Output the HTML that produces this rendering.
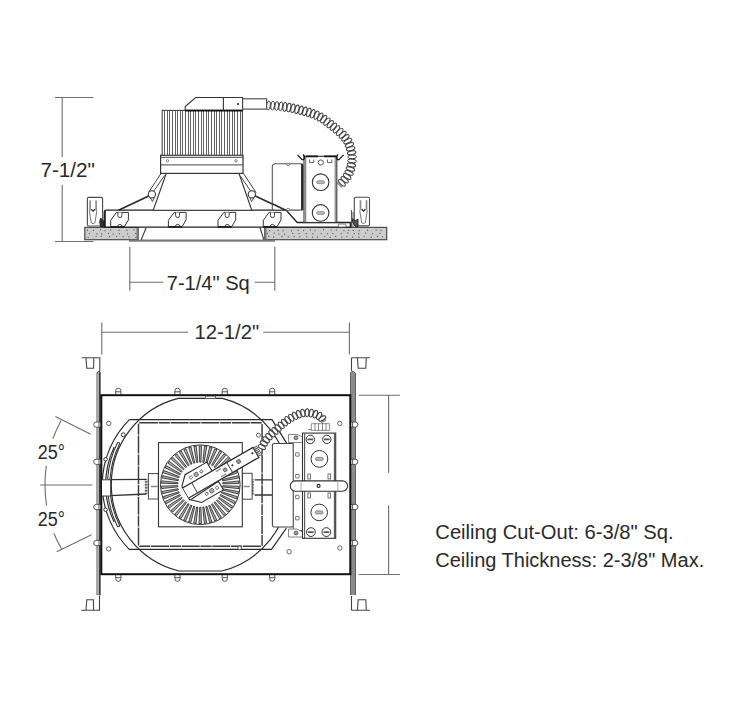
<!DOCTYPE html>
<html><head><meta charset="utf-8">
<style>
html,body{margin:0;padding:0;background:#fff;}
body{width:745px;height:724px;overflow:hidden;}
svg{display:block;}
text{font-family:"Liberation Sans",sans-serif;fill:#2a2a2a;}
</style></head>
<body>
<svg width="745" height="724" viewBox="0 0 745 724">
<g stroke="#6e6e6e" stroke-width="1.1" fill="none">
<path d="M55 97.5H93.5M62.2 97.5V157M62.2 185V241.5M55 241.5H93.5"/>
<path d="M129.8 246.8V290.7M274.8 246.8V290.7M129.8 282.2H163.4M254.7 282.2H274.8"/>
<path d="M101.8 322.4V354.6M349.4 322.4V354.6M101.8 332.2H188M263.2 332.2H349.4"/>
<path d="M358.8 395.2H399.9M358.8 574.5H399.9M388.6 395.2V472.7M388.6 505.2V574.5"/>
<path d="M40.1 485H92.5M55.4 416.6L90.7 434.2M56.7 551.8L91.5 534.7"/>
<path d="M61.1 420.5A135.3 135.3 0 0 0 52.9 438.8M46.3 465.9A135.3 135.3 0 0 0 46.6 505.7M53.8 533.3A135.3 135.3 0 0 0 61.8 549.2"/>
</g>
<text x="40.4" y="176.8" font-size="19.6" textLength="54.5" lengthAdjust="spacingAndGlyphs">7-1/2"</text>
<text x="166.8" y="289.8" font-size="19.6" textLength="82.9" lengthAdjust="spacingAndGlyphs">7-1/4" Sq</text>
<text x="194.5" y="339.4" font-size="19.6" textLength="64.7" lengthAdjust="spacingAndGlyphs">12-1/2"</text>
<text x="37.7" y="459.2" font-size="19.6" textLength="27.2" lengthAdjust="spacingAndGlyphs">25°</text>
<text x="37.7" y="526.3" font-size="19.6" textLength="27.2" lengthAdjust="spacingAndGlyphs">25°</text>
<text x="435.3" y="539.3" font-size="19.6" textLength="238.4" lengthAdjust="spacingAndGlyphs">Ceiling Cut-Out: 6-3/8" Sq.</text>
<text x="435.3" y="566.5" font-size="19.6" textLength="268.9" lengthAdjust="spacingAndGlyphs">Ceiling Thickness: 2-3/8" Max.</text>
<g stroke="#333" stroke-width="1.2" fill="#fff">
<rect x="84.8" y="227.4" width="53.4" height="12.3" fill="#cccccc" stroke="#4a4a4a" stroke-width="1.2"/><g fill="#555" stroke="none"><circle cx="87.51" cy="230.25" r="0.65"/><circle cx="93.49" cy="230.32" r="0.65"/><circle cx="100.5" cy="229.68" r="0.65"/><circle cx="105.05" cy="230.6" r="0.65"/><circle cx="110.59" cy="229.88" r="0.65"/><circle cx="119.07" cy="230.16" r="0.65"/><circle cx="126.92" cy="230.17" r="0.65"/><circle cx="133.97" cy="229.78" r="0.65"/><circle cx="89.4" cy="233.63" r="0.65"/><circle cx="96.87" cy="233.81" r="0.65"/><circle cx="101.63" cy="233.91" r="0.65"/><circle cx="108.49" cy="233.36" r="0.65"/><circle cx="113.11" cy="234.04" r="0.65"/><circle cx="119.5" cy="233.86" r="0.65"/><circle cx="127.52" cy="233.86" r="0.65"/><circle cx="135.7" cy="233.47" r="0.65"/><circle cx="88.13" cy="237.32" r="0.65"/><circle cx="96.15" cy="236.32" r="0.65"/><circle cx="101.19" cy="236.46" r="0.65"/><circle cx="109.56" cy="236.72" r="0.65"/><circle cx="116.56" cy="236.56" r="0.65"/><circle cx="123.09" cy="236.66" r="0.65"/><circle cx="128.99" cy="236.9" r="0.65"/><circle cx="135.83" cy="237.29" r="0.65"/></g>
<rect x="264.7" y="227.4" width="122" height="12.3" fill="#cccccc" stroke="#4a4a4a" stroke-width="1.2"/><g fill="#555" stroke="none"><circle cx="269.49" cy="230.63" r="0.65"/><circle cx="277.95" cy="230.41" r="0.65"/><circle cx="283.1" cy="230.63" r="0.65"/><circle cx="291.46" cy="230.69" r="0.65"/><circle cx="298.24" cy="230.46" r="0.65"/><circle cx="303.58" cy="230.6" r="0.65"/><circle cx="310.38" cy="229.94" r="0.65"/><circle cx="315.13" cy="230.62" r="0.65"/><circle cx="323.59" cy="229.71" r="0.65"/><circle cx="331.29" cy="230.09" r="0.65"/><circle cx="336.4" cy="229.95" r="0.65"/><circle cx="343.97" cy="230.65" r="0.65"/><circle cx="348.65" cy="230.34" r="0.65"/><circle cx="353.33" cy="230.46" r="0.65"/><circle cx="359.15" cy="230.66" r="0.65"/><circle cx="367.57" cy="230.21" r="0.65"/><circle cx="376.07" cy="229.97" r="0.65"/><circle cx="380.88" cy="230.32" r="0.65"/><circle cx="267.29" cy="233.49" r="0.65"/><circle cx="274.23" cy="233.19" r="0.65"/><circle cx="278.9" cy="234.04" r="0.65"/><circle cx="284.66" cy="234.15" r="0.65"/><circle cx="292.75" cy="233.45" r="0.65"/><circle cx="299.09" cy="233.62" r="0.65"/><circle cx="306.16" cy="233.71" r="0.65"/><circle cx="312.9" cy="233.74" r="0.65"/><circle cx="321.16" cy="233.61" r="0.65"/><circle cx="327.39" cy="233.86" r="0.65"/><circle cx="332.84" cy="233.36" r="0.65"/><circle cx="341.25" cy="233.63" r="0.65"/><circle cx="347.94" cy="233.01" r="0.65"/><circle cx="354.1" cy="233.7" r="0.65"/><circle cx="358.68" cy="233.74" r="0.65"/><circle cx="365.71" cy="233.07" r="0.65"/><circle cx="372.72" cy="233.56" r="0.65"/><circle cx="379.94" cy="233.42" r="0.65"/><circle cx="268.91" cy="236.23" r="0.65"/><circle cx="273.66" cy="237.01" r="0.65"/><circle cx="282.01" cy="236.5" r="0.65"/><circle cx="288.33" cy="236.91" r="0.65"/><circle cx="294.11" cy="236.64" r="0.65"/><circle cx="299.87" cy="236.64" r="0.65"/><circle cx="306.75" cy="236.56" r="0.65"/><circle cx="312.76" cy="237.13" r="0.65"/><circle cx="317.36" cy="236.88" r="0.65"/><circle cx="324.81" cy="236.57" r="0.65"/><circle cx="330.2" cy="237.16" r="0.65"/><circle cx="335.65" cy="236.42" r="0.65"/><circle cx="341.89" cy="237.04" r="0.65"/><circle cx="346.8" cy="236.59" r="0.65"/><circle cx="352.63" cy="237.2" r="0.65"/><circle cx="358.89" cy="237.23" r="0.65"/><circle cx="364.06" cy="236.6" r="0.65"/><circle cx="371.17" cy="237.26" r="0.65"/><circle cx="377.47" cy="236.47" r="0.65"/><circle cx="382.45" cy="236.84" r="0.65"/></g>
<path d="M137.5 228V239.5M265.5 228V239.5" stroke="#777" stroke-width="2"/>
<path d="M146.2 227.5L141 240.3H264L260 227.5" fill="#fff" stroke="#444"/>
<path d="M129 240.8H275" stroke="#7a7a7a" stroke-width="2"/>
<path d="M106 210.2H286.3L297.2 222.5H350.3V227.1H104.4V212Q104.4 210.2 106 210.2Z" fill="#fff" stroke="#222" stroke-width="1.3"/>
<path d="M104.8 211V227" stroke="#222" stroke-width="2"/>
<rect x="338.2" y="224" width="7.8" height="3" rx="1" fill="#fff" stroke="#555" stroke-width="0.8"/>
<path d="M110.7 226.8V220.3L116.5 212.4H128.4 V219.9L124.3 226.8Z" fill="#fff" stroke="#333" stroke-width="1"/>
<path d="M117.9 212.6V215.6A2 2 0 0 0 121.9 215.6V212.6" fill="#fff" stroke="#333" stroke-width="0.95"/>
<path d="M117.7 226.6A2.2 2.2 0 0 1 122.1 226.6" fill="#fff" stroke="#333" stroke-width="0.95"/>
<path d="M110.7 226.9H124.3" stroke="#111" stroke-width="1.4"/>
<path d="M168.4 226.8V220.3L174.2 212.4H186.1 V219.9L182 226.8Z" fill="#fff" stroke="#333" stroke-width="1"/>
<path d="M175.6 212.6V215.6A2 2 0 0 0 179.6 215.6V212.6" fill="#fff" stroke="#333" stroke-width="0.95"/>
<path d="M175.4 226.6A2.2 2.2 0 0 1 179.8 226.6" fill="#fff" stroke="#333" stroke-width="0.95"/>
<path d="M168.4 226.9H182" stroke="#111" stroke-width="1.4"/>
<path d="M218 226.8V220.3L223.8 212.4H235.7 V219.9L231.6 226.8Z" fill="#fff" stroke="#333" stroke-width="1"/>
<path d="M225.2 212.6V215.6A2 2 0 0 0 229.2 215.6V212.6" fill="#fff" stroke="#333" stroke-width="0.95"/>
<path d="M225 226.6A2.2 2.2 0 0 1 229.4 226.6" fill="#fff" stroke="#333" stroke-width="0.95"/>
<path d="M218 226.9H231.6" stroke="#111" stroke-width="1.4"/>
<path d="M263.3 226.8V220.3L269.1 212.4H281 V219.9L276.9 226.8Z" fill="#fff" stroke="#333" stroke-width="1"/>
<path d="M270.5 212.6V215.6A2 2 0 0 0 274.5 215.6V212.6" fill="#fff" stroke="#333" stroke-width="0.95"/>
<path d="M270.3 226.6A2.2 2.2 0 0 1 274.7 226.6" fill="#fff" stroke="#333" stroke-width="0.95"/>
<path d="M263.3 226.9H276.9" stroke="#111" stroke-width="1.4"/>
<rect x="87.4" y="197.4" width="15.2" height="28.6" rx="1.3" fill="#fff" stroke="#4a4a4a" stroke-width="1.1"/><path d="M90.1 200.4V210.4M96.1 200.4V210.4" stroke="#8a8a8a" stroke-width="1.7"/><path d="M91.3 209.4L93.1 211.2L94.9 209.4" fill="none" stroke="#222" stroke-width="1.3"/><path d="M89.3 210.4L91.3 222.9Q93.1 224.4 94.9 222.9L96.9 210.4" fill="none" stroke="#666" stroke-width="0.9"/>
<rect x="354.3" y="197.3" width="15.2" height="28.6" rx="1.3" fill="#fff" stroke="#4a4a4a" stroke-width="1.1"/><path d="M360.5 200.3V210.3M366.5 200.3V210.3" stroke="#8a8a8a" stroke-width="1.7"/><path d="M361.7 209.3L363.5 211.1L365.3 209.3" fill="none" stroke="#222" stroke-width="1.3"/><path d="M359.7 210.3L361.7 222.8Q363.5 224.3 365.3 222.8L367.3 210.3" fill="none" stroke="#666" stroke-width="0.9"/>
<path d="M100.5 218L103.5 221V226.5H100.5Q99 222 100.5 218Z" fill="#333" stroke="#222" stroke-width="1"/>
<path d="M355.5 226.5L352.5 222V218.5L355 221L358 219V226.5Z" fill="#555" stroke="#222" stroke-width="0.9"/>
<path d="M351.5 210V227M353 212V227" stroke="#444" stroke-width="0.9"/>
<path d="M166.3 173.4H238.9L251.8 210.2H153.2Z" fill="#fff" stroke="#333" stroke-width="1.1"/>
<path d="M161 173.5L148.5 192.5M164.5 175.5L152.5 193M243.5 173.5L256 192.5M240 175.5L252 193" stroke="#444" stroke-width="1"/>
<path d="M150 197.5L152.5 201.5L154.5 197M249.5 197L251.5 201.5L254 197.5" fill="none" stroke="#444" stroke-width="1"/>
<path d="M151.9 194.4L118.5 210.2M251.8 194.4L285.7 210.2" stroke="#2a2a2a" stroke-width="1.7"/>
<circle cx="151.9" cy="194.4" r="3.6" fill="#fff" stroke="#333" stroke-width="1.1"/><circle cx="251.8" cy="194.4" r="3.6" fill="#fff" stroke="#333" stroke-width="1.1"/>
<rect x="160.6" y="155.2" width="82.4" height="18.2" fill="#fff" stroke="#333" stroke-width="1.2"/>
<path d="M160.6 157.3H243M160.6 164.9H243" stroke="#444" stroke-width="1"/>
<circle cx="167.5" cy="160.8" r="1.2" fill="none" stroke="#666" stroke-width="0.8"/><circle cx="236" cy="160.8" r="1.2" fill="none" stroke="#666" stroke-width="0.8"/>
<rect x="162.2" y="110.4" width="80.2" height="44.8" fill="#fff" stroke="#444" stroke-width="1.1"/>
<path d="M164.5 111V155M167.5 111V155M169.5 111V155M172.5 111V155M175.5 111V155M177.5 111V155M180.5 111V155M182.5 111V155M185.5 111V155M188.5 111V155M190.5 111V155M193.5 111V155M195.5 111V155M198.5 111V155M201.5 111V155M203.5 111V155M206.5 111V155M208.5 111V155M211.5 111V155M214.5 111V155M216.5 111V155M219.5 111V155M221.5 111V155M224.5 111V155M227.5 111V155M229.5 111V155M232.5 111V155M234.5 111V155M237.5 111V155M240.5 111V155" stroke="#5a5a5a" stroke-width="0.95"/>
<path d="M185.2 110.4V106.5L195.7 97.5H242.6V110.4Z" fill="#fff" stroke="#333" stroke-width="1.1"/>
<path d="M185.2 110.6H242.6" stroke="#111" stroke-width="1.6"/>
<path d="M223.4 97.5V110.4" stroke="#333" stroke-width="1.1"/>
<rect x="242.6" y="98.8" width="24" height="10.3" fill="#fff" stroke="#444" stroke-width="1.1"/>
<circle cx="238" cy="104" r="1" fill="#222" stroke="none"/>
</g>
<path d="M266.5 105.2L267.32 105.28L268.3 105.36L269.42 105.45L270.66 105.54L272.02 105.64L273.48 105.74L275.02 105.86L276.62 105.99L278.28 106.14L279.97 106.3L281.68 106.48L283.4 106.68L285.1 106.9L286.78 107.14L288.42 107.41L290 107.7L291.58 108.02L293.21 108.37L294.89 108.75L296.61 109.15L298.34 109.57L300.09 110.01L301.85 110.47L303.59 110.94L305.32 111.43L307.02 111.93L308.68 112.43L310.29 112.94L311.83 113.46L313.31 113.97L314.7 114.49L316 115L317.2 115.51L318.31 116.01L319.34 116.51L320.31 117.01L321.21 117.52L322.06 118.03L322.87 118.55L323.65 119.08L324.41 119.62L325.16 120.18L325.91 120.76L326.67 121.36L327.45 121.98L328.26 122.62L329.1 123.3L330 124L330.95 124.74L331.94 125.52L332.97 126.34L334.03 127.2L335.1 128.07L336.18 128.97L337.26 129.89L338.34 130.81L339.39 131.74L340.43 132.68L341.42 133.6L342.38 134.52L343.28 135.43L344.13 136.31L344.9 137.17L345.6 138L346.23 138.81L346.79 139.6L347.31 140.39L347.77 141.16L348.19 141.93L348.57 142.69L348.91 143.44L349.21 144.19L349.49 144.93L349.75 145.66L349.98 146.39L350.2 147.12L350.41 147.84L350.61 148.56L350.8 149.28L351 150L351.19 150.71L351.36 151.42L351.52 152.11L351.65 152.8L351.77 153.48L351.87 154.15L351.96 154.83L352.02 155.5L352.08 156.17L352.11 156.85L352.13 157.52L352.13 158.2L352.12 158.89L352.1 159.58L352.06 160.29L352 161L351.93 161.73L351.83 162.48L351.71 163.25L351.58 164.04L351.43 164.83L351.26 165.62L351.07 166.42L350.88 167.22L350.67 168.01L350.45 168.79L350.22 169.55L349.98 170.29L349.74 171.01L349.5 171.71L349.25 172.37L349 173L348.74 173.6L348.47 174.17L348.19 174.72L347.89 175.25L347.59 175.76L347.27 176.25L346.95 176.73L346.62 177.19L346.3 177.63L345.96 178.07L345.63 178.49L345.3 178.91L344.97 179.31L344.64 179.71L344.32 180.11L344 180.5L343.68 180.89L343.34 181.28L342.99 181.66L342.63 182.04L342.27 182.41L341.91 182.78L341.54 183.13L341.19 183.47L340.84 183.79L340.51 184.1L340.19 184.39L339.9 184.66L339.63 184.91L339.39 185.13L339.18 185.33L339 185.5" fill="none" stroke="#9a9a9a" stroke-width="6.6"/><g fill="#fff" stroke="#3a3a3a" stroke-width="0.95"><ellipse cx="268.54" cy="105.38" rx="1.8" ry="4.4" transform="rotate(4.36 268.54 105.38)"/><ellipse cx="272.63" cy="105.68" rx="1.8" ry="4.4" transform="rotate(4.24 272.63 105.68)"/><ellipse cx="276.72" cy="106" rx="1.8" ry="4.4" transform="rotate(5.03 276.72 106)"/><ellipse cx="280.8" cy="106.39" rx="1.8" ry="4.4" transform="rotate(5.98 280.8 106.39)"/><ellipse cx="284.87" cy="106.87" rx="1.8" ry="4.4" transform="rotate(7.34 284.87 106.87)"/><ellipse cx="288.92" cy="107.5" rx="1.8" ry="4.4" transform="rotate(10.49 288.92 107.5)"/><ellipse cx="292.94" cy="108.31" rx="1.8" ry="4.4" transform="rotate(12.09 292.94 108.31)"/><ellipse cx="296.94" cy="109.23" rx="1.8" ry="4.4" transform="rotate(13.65 296.94 109.23)"/><ellipse cx="300.91" cy="110.23" rx="1.8" ry="4.4" transform="rotate(14.66 300.91 110.23)"/><ellipse cx="304.87" cy="111.3" rx="1.8" ry="4.4" transform="rotate(15.73 304.87 111.3)"/><ellipse cx="308.8" cy="112.47" rx="1.8" ry="4.4" transform="rotate(17.63 308.8 112.47)"/><ellipse cx="312.69" cy="113.76" rx="1.8" ry="4.4" transform="rotate(19.27 312.69 113.76)"/><ellipse cx="316.52" cy="115.22" rx="1.8" ry="4.4" transform="rotate(22.86 316.52 115.22)"/><ellipse cx="320.23" cy="116.97" rx="1.8" ry="4.4" transform="rotate(27.59 320.23 116.97)"/><ellipse cx="323.71" cy="119.13" rx="1.8" ry="4.4" transform="rotate(35.57 323.71 119.13)"/><ellipse cx="326.98" cy="121.6" rx="1.8" ry="4.4" transform="rotate(38.54 326.98 121.6)"/><ellipse cx="330.19" cy="124.15" rx="1.8" ry="4.4" transform="rotate(37.97 330.19 124.15)"/><ellipse cx="333.41" cy="126.69" rx="1.8" ry="4.4" transform="rotate(38.9 333.41 126.69)"/><ellipse cx="336.57" cy="129.3" rx="1.8" ry="4.4" transform="rotate(40.21 336.57 129.3)"/><ellipse cx="339.67" cy="131.99" rx="1.8" ry="4.4" transform="rotate(42.1 339.67 131.99)"/><ellipse cx="342.65" cy="134.8" rx="1.8" ry="4.4" transform="rotate(45.01 342.65 134.8)"/><ellipse cx="345.44" cy="137.81" rx="1.8" ry="4.4" transform="rotate(49.92 345.44 137.81)"/><ellipse cx="347.77" cy="141.17" rx="1.8" ry="4.4" transform="rotate(61.41 347.77 141.17)"/><ellipse cx="349.48" cy="144.89" rx="1.8" ry="4.4" transform="rotate(69.35 349.48 144.89)"/><ellipse cx="350.67" cy="148.81" rx="1.8" ry="4.4" transform="rotate(74.71 350.67 148.81)"/><ellipse cx="351.65" cy="152.79" rx="1.8" ry="4.4" transform="rotate(78.78 351.65 152.79)"/><ellipse cx="352.11" cy="156.86" rx="1.8" ry="4.4" transform="rotate(88.37 352.11 156.86)"/><ellipse cx="352" cy="160.96" rx="1.8" ry="4.4" transform="rotate(94.44 352 160.96)"/><ellipse cx="351.39" cy="165.01" rx="1.8" ry="4.4" transform="rotate(101.98 351.39 165.01)"/><ellipse cx="350.39" cy="168.99" rx="1.8" ry="4.4" transform="rotate(106.62 350.39 168.99)"/><ellipse cx="349.06" cy="172.86" rx="1.8" ry="4.4" transform="rotate(111.68 349.06 172.86)"/><ellipse cx="347.13" cy="176.47" rx="1.8" ry="4.4" transform="rotate(123.99 347.13 176.47)"/><ellipse cx="344.63" cy="179.72" rx="1.8" ry="4.4" transform="rotate(129.21 344.63 179.72)"/><ellipse cx="341.9" cy="182.78" rx="1.8" ry="4.4" transform="rotate(135.81 341.9 182.78)"/></g>
<g stroke="#333" stroke-width="1.1" fill="#fff">
<path d="M275.5 163.7H302V210.1H274Q272.3 210.1 272.3 208.4V166.9Q272.3 163.7 275.5 163.7Z" fill="#fff" stroke="#555"/>
<path d="M303.6 165V210" stroke="#888" stroke-width="0.9"/>
<path d="M272.3 203.8L285.7 210.2" stroke="#2a2a2a" stroke-width="1.6"/>
<path d="M302 164V210" stroke="#222" stroke-width="1.8"/>
<path d="M286.5 163.9A1.6 1.6 0 0 0 289.7 163.9M286.5 209.9A1.6 1.6 0 0 1 289.7 209.9" fill="#fff" stroke="#666" stroke-width="0.9"/>
<rect x="304" y="156.3" width="32.8" height="66.2" fill="#fff" stroke="#333" stroke-width="1.1"/>
<path d="M305.7 157V222M335.2 157V222" stroke="#777" stroke-width="1.1"/>
<path d="M306 156.3H318M324 156.3H336" stroke="#111" stroke-width="1.8"/>
<path d="M297.5 154.8L301.8 159.3Q303.6 160.6 304.3 158.5Q304.8 155.5 303 154.5" fill="none" stroke="#111" stroke-width="1.2"/>
<path d="M343.6 154.8L339.3 159.3Q337.5 160.6 336.8 158.5Q336.3 155.5 338.1 154.5" fill="none" stroke="#111" stroke-width="1.2"/>
<path d="M309.5 159.5V162.5H313.8V159.5M327.5 159.5V162.5H331.8V159.5" fill="none" stroke="#555" stroke-width="0.9"/>
<circle cx="320.8" cy="162.5" r="2.6" fill="#fff" stroke="#444" stroke-width="0.9"/>
<circle cx="320.6" cy="182.2" r="8.3" fill="#fff" stroke="#333" stroke-width="1.1"/><circle cx="320.6" cy="212.9" r="8.3" fill="#fff" stroke="#333" stroke-width="1.1"/>
<rect x="316.7" y="180.7" width="7.8" height="3" rx="1.5" fill="#bbb" stroke="#777" stroke-width="0.7"/>
<rect x="316.7" y="211.4" width="7.8" height="3" rx="1.5" fill="#bbb" stroke="#777" stroke-width="0.7"/>
</g>
<g fill="none" stroke="#444" stroke-width="1.1">
<path d="M81.6 357.7H99.8V371.5M86 357.7L86.8 368.2H93.6L93.8 357.7"/>
<path d="M81.3 610.3H99.5V595.4M86 610.3L86.8 599.7H93.4L93.6 610.3"/>
<path d="M351.5 357.7H370M357.4 357.7L358.2 368.2H365.8L366.3 357.7M351.5 357.7V371"/>
<path d="M351.5 610.3H370M357.4 610.3L358.2 599.7H365.8L366.3 610.3M351.5 610.3V596"/>
</g>
<path d="M97 595V373Q97.5 371 99.8 371.5V595" fill="#a8a8a8" stroke="#444" stroke-width="0.9"/>
<path d="M350.6 595V373Q351.2 371 353.5 371.5L355.4 373V595" fill="#959595" stroke="#444" stroke-width="0.9"/>
<path d="M97.8 374V594" stroke="#ccc" stroke-width="0.7"/><path d="M99.8 372.5V595" stroke="#333" stroke-width="1.4"/><path d="M352.9 374V594" stroke="#777" stroke-width="0.6"/>
<g fill="#fff" stroke="#444" stroke-width="0.9"><path d="M101 422H96.3A2.6 2.6 0 0 0 96.3 427.2H101M99 422V427.2"/><path d="M350.6 422H355.3A2.6 2.6 0 0 1 355.3 427.2H350.6M352.6 422V427.2"/><path d="M101 459.2H96.3A2.6 2.6 0 0 0 96.3 464.4H101M99 459.2V464.4"/><path d="M350.6 459.2H355.3A2.6 2.6 0 0 1 355.3 464.4H350.6M352.6 459.2V464.4"/><path d="M101 504.4H96.3A2.6 2.6 0 0 0 96.3 509.6H101M99 504.4V509.6"/><path d="M350.6 504.4H355.3A2.6 2.6 0 0 1 355.3 509.6H350.6M352.6 504.4V509.6"/><path d="M101 540.4H96.3A2.6 2.6 0 0 0 96.3 545.6H101M99 540.4V545.6"/><path d="M350.6 540.4H355.3A2.6 2.6 0 0 1 355.3 545.6H350.6M352.6 540.4V545.6"/></g>
<g fill="#fff" stroke="#444" stroke-width="0.9"><path d="M115.7 395V390.8A2.6 2.6 0 0 1 120.9 390.8V395M115.7 391.8H120.9"/><path d="M115.7 574.5V578.7A2.6 2.6 0 0 0 120.9 578.7V574.5M115.7 577.7H120.9"/><path d="M174.9 395V390.8A2.6 2.6 0 0 1 180.1 390.8V395M174.9 391.8H180.1"/><path d="M174.9 574.5V578.7A2.6 2.6 0 0 0 180.1 578.7V574.5M174.9 577.7H180.1"/><path d="M222.2 395V390.8A2.6 2.6 0 0 1 227.4 390.8V395M222.2 391.8H227.4"/><path d="M222.2 574.5V578.7A2.6 2.6 0 0 0 227.4 578.7V574.5M222.2 577.7H227.4"/><path d="M269.6 395V390.8A2.6 2.6 0 0 1 274.8 390.8V395M269.6 391.8H274.8"/><path d="M269.6 574.5V578.7A2.6 2.6 0 0 0 274.8 578.7V574.5M269.6 577.7H274.8"/></g>
<rect x="101.3" y="395.2" width="249" height="179" fill="#fff" stroke="#111" stroke-width="2"/>
<g fill="none" stroke="#555" stroke-width="0.9"><circle cx="108.8" cy="423.4" r="2.2"/><circle cx="108.7" cy="548.9" r="2.2"/><circle cx="339.8" cy="423.4" r="2.2"/><circle cx="339.9" cy="548" r="2.2"/><circle cx="289.1" cy="551.8" r="2.2"/><circle cx="258.4" cy="435.2" r="2"/></g>
<g fill="none" stroke="#2a2a2a" stroke-width="1.15">
<path d="M178.15 398.4H222.45 A89 89 0 0 1 221.66 571 H178.94 A89 89 0 0 1 178.15 398.4Z"/>
<rect x="205.3" y="396.2" width="10.3" height="2.2" fill="#fff" stroke="#555" stroke-width="0.8"/>
<path d="M129.4 419.7A98 94 0 0 0 129.2 549.3"/>
<path d="M114.2 447A94.7 90.5 0 0 0 114.1 522"/>
</g>
<path d="M118.32 443.73A91.6 91.6 0 0 0 108.92 478.21M108.92 490.99A91.6 91.6 0 0 0 118.32 525.47" fill="none" stroke="#2a2a2a" stroke-width="3.4" stroke-linecap="round"/>
<path d="M118.32 443.73A91.6 91.6 0 0 0 108.92 478.21M108.92 490.99A91.6 91.6 0 0 0 118.32 525.47" fill="none" stroke="#fff" stroke-width="1.4" stroke-linecap="round"/>
<g fill="#fff" stroke="#333" stroke-width="1"><circle cx="123.3" cy="434.8" r="2"/><circle cx="105.6" cy="509.7" r="1.8"/><circle cx="105.6" cy="459.3" r="1.8"/></g>
<path d="M129.4 419.7H272L286.9 443.6M129 549.3H271.5L286.4 528.1" fill="none" stroke="#2a2a2a" stroke-width="1.2"/>
<rect x="138.5" y="422.8" width="123.6" height="123.5" rx="1.6" fill="none" stroke="#3a3a3a" stroke-width="1.45" stroke-dasharray="18 0.8 11 0.8"/>
<circle cx="239.6" cy="547.9" r="1.9" fill="#fff" stroke="#444" stroke-width="0.9"/>
<path d="M110.3 479.7L146.5 479.3M110.3 495.7L146.5 494M254.6 479.9H272M254.6 495H272" fill="none" stroke="#333" stroke-width="1.3"/>
<path d="M102 479.8H110.6V496H102" fill="#fff" stroke="#444" stroke-width="1"/>
<path d="M146.2 479.5V494.5M252.4 479.5V495" stroke="#333" stroke-width="2.8" stroke-dasharray="0.8 0.7"/>
<rect x="148.4" y="473.6" width="9.9" height="25.4" fill="#fff" stroke="#444" stroke-width="1"/>
<rect x="242.3" y="473.3" width="9.8" height="25.9" fill="#fff" stroke="#444" stroke-width="1"/>
<path d="M151 486.5H157.5M243.5 486.5H249.8" stroke="#888" stroke-width="1.6"/>
<rect x="158.5" y="442.6" width="83.8" height="84.2" fill="#fff" stroke="#333" stroke-width="1.1"/>
<circle cx="200.3" cy="484.75" r="39.8" fill="#fff" stroke="#333" stroke-width="1"/>
<path d="M222.7 486.92L238.92 488.65L239.09 486.26L222.79 485.72ZM222.2 489.95L238.03 493.88L238.52 491.53L222.45 488.77ZM221.29 492.88L236.44 498.93L237.24 496.67L221.69 491.75ZM219.98 495.66L234.17 503.72L235.28 501.59L220.54 494.6ZM218.32 498.24L231.27 508.15L232.66 506.19L219.01 497.26ZM216.31 500.57L227.8 512.15L229.44 510.4L217.13 499.69ZM214.01 502.6L223.81 515.64L225.67 514.13L214.94 501.85ZM211.45 504.3L219.38 518.55L221.44 517.31L212.47 503.68ZM208.68 505.64L214.6 520.84L216.81 519.88L209.78 505.16ZM205.76 506.59L209.56 522.45L211.87 521.81L206.92 506.26ZM202.74 507.13L204.34 523.36L206.71 523.03L203.92 506.96ZM199.67 507.25L199.04 523.55L201.44 523.55L200.87 507.25ZM196.61 506.95L193.77 523.02L196.15 523.35L197.8 507.12ZM193.62 506.24L188.62 521.77L190.93 522.42L194.77 506.57ZM190.75 505.13L183.69 519.83L185.89 520.79L191.85 505.61ZM188.07 503.64L179.07 517.25L181.11 518.5L189.09 504.27ZM185.61 501.8L174.84 514.05L176.7 515.57L186.54 502.56ZM183.42 499.64L171.09 510.31L172.72 512.07L184.24 500.52ZM181.55 497.21L167.88 506.1L169.26 508.06L182.24 498.19ZM180.03 494.54L165.27 501.48L166.37 503.61L180.58 495.6ZM178.89 491.69L163.32 496.56L164.12 498.82L179.29 492.82ZM178.14 488.71L162.06 491.41L162.54 493.76L178.38 489.88ZM177.81 485.65L161.51 486.14L161.67 488.54L177.89 486.85ZM177.9 482.58L161.68 480.85L161.51 483.24L177.81 483.78ZM178.4 479.55L162.57 475.62L162.08 477.97L178.15 480.73ZM179.31 476.62L164.16 470.57L163.36 472.83L178.91 477.75ZM180.62 473.84L166.43 465.78L165.32 467.91L180.06 474.9ZM182.28 471.26L169.33 461.35L167.94 463.31L181.59 472.24ZM184.29 468.93L172.8 457.35L171.16 459.1L183.47 469.81ZM186.59 466.9L176.79 453.86L174.93 455.37L185.66 467.65ZM189.15 465.2L181.22 450.95L179.16 452.19L188.13 465.82ZM191.92 463.86L186 448.66L183.79 449.62L190.82 464.34ZM194.84 462.91L191.04 447.05L188.73 447.69L193.68 463.24ZM197.86 462.37L196.26 446.14L193.89 446.47L196.68 462.54ZM200.93 462.25L201.56 445.95L199.16 445.95L199.73 462.25ZM203.99 462.55L206.83 446.48L204.45 446.15L202.8 462.38ZM206.98 463.26L211.98 447.73L209.67 447.08L205.83 462.93ZM209.85 464.37L216.91 449.67L214.71 448.71L208.75 463.89ZM212.53 465.86L221.53 452.25L219.49 451L211.51 465.23ZM214.99 467.7L225.76 455.45L223.9 453.93L214.06 466.94ZM217.18 469.86L229.51 459.19L227.88 457.43L216.36 468.98ZM219.05 472.29L232.72 463.4L231.34 461.44L218.36 471.31ZM220.57 474.96L235.33 468.02L234.23 465.89L220.02 473.9ZM221.71 477.81L237.28 472.94L236.48 470.68L221.31 476.68ZM222.46 480.79L238.54 478.09L238.06 475.74L222.22 479.62ZM222.79 483.85L239.09 483.36L238.93 480.96L222.71 482.65Z" fill="#b0b0b0" stroke="#2a2a2a" stroke-width="0.85" stroke-linejoin="round"/>
<g transform="translate(200.3 484.75) rotate(-30)">
<circle r="21" fill="#fff" stroke="none"/>
<path d="M-16.8 -7.8L-8.2 -16.3H17V-6M17.5 6V16L-7.75 16L-15.8 8.15Z" fill="#fff" stroke="#2a2a2a" stroke-width="1.1"/>
<path d="M-16.8 -7.8V8.15" fill="none" stroke="#2a2a2a" stroke-width="1.1"/>
<path d="M-16.6 -6H64.3V5.6H-16.6" fill="#fff" stroke="#2a2a2a" stroke-width="1.2"/>
<path d="M-6.5 -6V6" stroke="#444" stroke-width="0.9"/>
<g fill="#fff" stroke="#555" stroke-width="0.8"><circle cx="-4.5" cy="-11" r="1.5"/><circle cx="1.5" cy="-11" r="2.2" fill="#aaa"/><circle cx="7.5" cy="-11" r="1.5"/><circle cx="1" cy="11" r="1.5"/><circle cx="7" cy="11" r="2.2" fill="#aaa"/><circle cx="13" cy="11" r="1.5"/><circle cx="29" cy="-0.5" r="1.9" fill="#999"/></g>
<path d="M20 -3.5h6M22 3.5h6" stroke="#999" stroke-width="1.5"/>
<path d="M34 -6V5.6" stroke="#444" stroke-width="0.9"/>
<circle cx="44.8" cy="-1" r="2" fill="#999" stroke="#555" stroke-width="0.8"/>
<circle cx="37.5" cy="-0.8" r="1" fill="#222"/><circle cx="60.8" cy="-1.2" r="1" fill="#222"/>
<path d="M64.3 -5.2h4.5M64.3 -3.3h4.5M64.3 -1.4h4.5M64.3 0.5h4.5M64.3 2.4h4.5M64.3 4.3h4.5" stroke="#444" stroke-width="1"/>
</g>
<rect x="272.4" y="443.5" width="21" height="83.5" rx="1.8" fill="#fff" stroke="#444" stroke-width="1.1"/>
<rect x="293.3" y="440.5" width="9.3" height="90" fill="#fff" stroke="#555" stroke-width="1"/>
<g fill="#fff" stroke="#555" stroke-width="0.8"><rect x="295.6" y="452.8" width="3.5" height="3.4" rx="0.3"/><rect x="295.6" y="474.5" width="3.5" height="3.4" rx="0.3"/><rect x="295.6" y="495.3" width="3.5" height="3.4" rx="0.3"/><rect x="295.6" y="516.5" width="3.5" height="3.4" rx="0.3"/></g>
<path d="M288.5 434.5H297L302.6 437V442.5H288.5Z" fill="#fff" stroke="#777" stroke-width="0.9"/><circle cx="296" cy="437.8" r="2" fill="#999" stroke="#444" stroke-width="0.7"/>
<path d="M288.5 529H297L302.6 532V537H288.5Z" fill="#fff" stroke="#777" stroke-width="0.9"/><circle cx="296" cy="533" r="2" fill="#999" stroke="#444" stroke-width="0.7"/>
<rect x="302.5" y="433.1" width="33.2" height="105.2" fill="#fff" stroke="#333" stroke-width="1.1"/>
<path d="M304.6 433.5V538M334.4 433.5V538" stroke="#555" stroke-width="1.1"/>
<g fill="#fff" stroke="#333" stroke-width="1"><circle cx="319.4" cy="458.9" r="8.4"/><circle cx="319.2" cy="512.4" r="8.3"/><circle cx="310.3" cy="439.4" r="4.2"/><circle cx="326.8" cy="439.4" r="4.2"/><circle cx="310.9" cy="532.1" r="4.4"/><circle cx="326.4" cy="532.1" r="4.4"/></g>
<g fill="#bbb" stroke="#666" stroke-width="0.7"><rect x="315.5" y="457.4" width="7.8" height="3" rx="1.5"/><rect x="315.3" y="510.9" width="7.8" height="3" rx="1.5"/></g>
<path d="M307.5 439.4h5.6M324 439.4h5.6M308 532.1h5.6M323.6 532.1h5.6" stroke="#555" stroke-width="1.8"/>
<g fill="#fff" stroke="#555" stroke-width="0.8"><rect x="307.8" y="474" width="2.6" height="5"/><rect x="328" y="474" width="2.6" height="5"/><rect x="307.8" y="493" width="2.6" height="5"/><rect x="328" y="493" width="2.6" height="5"/></g>
<rect x="290.2" y="480.9" width="57.4" height="10.3" rx="5.1" fill="#fff" stroke="#333" stroke-width="1.1"/>
<path d="M301 481V491M337.8 481V491" stroke="#999" stroke-width="0.8"/>
<circle cx="318.6" cy="485.9" r="1.5" fill="none" stroke="#222" stroke-width="1.1"/>
<path d="M261 449L261.16 448.69L261.34 448.32L261.54 447.9L261.76 447.43L261.99 446.92L262.25 446.37L262.52 445.79L262.81 445.19L263.13 444.56L263.47 443.92L263.83 443.26L264.21 442.6L264.62 441.94L265.05 441.28L265.51 440.63L266 440L266.52 439.37L267.07 438.72L267.66 438.05L268.28 437.38L268.93 436.69L269.6 436L270.29 435.3L271 434.59L271.73 433.89L272.46 433.18L273.21 432.47L273.97 431.76L274.73 431.06L275.49 430.36L276.25 429.68L277 429L277.76 428.32L278.53 427.63L279.31 426.93L280.11 426.22L280.91 425.51L281.73 424.81L282.55 424.1L283.38 423.41L284.2 422.72L285.04 422.05L285.87 421.4L286.7 420.76L287.53 420.15L288.36 419.57L289.18 419.02L290 418.5L290.82 418.01L291.65 417.53L292.48 417.07L293.32 416.63L294.16 416.21L295.01 415.81L295.85 415.42L296.69 415.06L297.52 414.72L298.34 414.4L299.16 414.11L299.96 413.84L300.75 413.59L301.52 413.37L302.27 413.17L303 413L303.71 412.86L304.41 412.75L305.09 412.68L305.76 412.63L306.41 412.61L307.06 412.62L307.69 412.64L308.31 412.69L308.92 412.75L309.53 412.83L310.12 412.92L310.71 413.02L311.29 413.13L311.87 413.25L312.44 413.38L313 413.5L313.56 413.63L314.13 413.78L314.7 413.95L315.26 414.13L315.82 414.32L316.37 414.53L316.91 414.74L317.44 414.97L317.95 415.2L318.45 415.45L318.94 415.69L319.4 415.95L319.84 416.21L320.25 416.47L320.64 416.73L321 417L321.33 417.28L321.63 417.59L321.91 417.92L322.17 418.26L322.41 418.62L322.62 418.98L322.82 419.35L323 419.72L323.16 420.08L323.31 420.43L323.45 420.76L323.58 421.07L323.69 421.35L323.8 421.6L323.9 421.82L324 422" fill="none" stroke="#9a9a9a" stroke-width="5.85"/><g fill="#fff" stroke="#3a3a3a" stroke-width="1.0"><ellipse cx="261.91" cy="447.11" rx="1.85" ry="3.9" transform="rotate(-65.37 261.91 447.11)"/><ellipse cx="263.78" cy="443.35" rx="1.85" ry="3.9" transform="rotate(-61.15 263.78 443.35)"/><ellipse cx="266.11" cy="439.86" rx="1.85" ry="3.9" transform="rotate(-50.67 266.11 439.86)"/><ellipse cx="268.9" cy="436.72" rx="1.85" ry="3.9" transform="rotate(-46.7 268.9 436.72)"/><ellipse cx="271.87" cy="433.75" rx="1.85" ry="3.9" transform="rotate(-43.83 271.87 433.75)"/><ellipse cx="274.93" cy="430.88" rx="1.85" ry="3.9" transform="rotate(-42.45 274.93 430.88)"/><ellipse cx="278.05" cy="428.06" rx="1.85" ry="3.9" transform="rotate(-41.86 278.05 428.06)"/><ellipse cx="281.19" cy="425.27" rx="1.85" ry="3.9" transform="rotate(-41.02 281.19 425.27)"/><ellipse cx="284.4" cy="422.56" rx="1.85" ry="3.9" transform="rotate(-38.9 284.4 422.56)"/><ellipse cx="287.73" cy="420.01" rx="1.85" ry="3.9" transform="rotate(-35.14 287.73 420.01)"/><ellipse cx="291.27" cy="417.75" rx="1.85" ry="3.9" transform="rotate(-29.89 291.27 417.75)"/><ellipse cx="294.99" cy="415.81" rx="1.85" ry="3.9" transform="rotate(-25.53 294.99 415.81)"/><ellipse cx="298.87" cy="414.21" rx="1.85" ry="3.9" transform="rotate(-19.95 298.87 414.21)"/><ellipse cx="302.9" cy="413.02" rx="1.85" ry="3.9" transform="rotate(-13.09 302.9 413.02)"/><ellipse cx="307.07" cy="412.62" rx="1.85" ry="3.9" transform="rotate(2.33 307.07 412.62)"/><ellipse cx="311.23" cy="413.12" rx="1.85" ry="3.9" transform="rotate(10.86 311.23 413.12)"/><ellipse cx="315.3" cy="414.15" rx="1.85" ry="3.9" transform="rotate(19.08 315.3 414.15)"/><ellipse cx="319.15" cy="415.81" rx="1.85" ry="3.9" transform="rotate(28.84 319.15 415.81)"/><ellipse cx="322.32" cy="418.49" rx="1.85" ry="3.9" transform="rotate(56.64 322.32 418.49)"/></g>
<path d="M311.3 423.7H329.7V430.4H311.3Z" fill="#fff" stroke="#777" stroke-width="0.8"/><path d="M315 423V431M318.5 423V431M322.5 423V431M326 423V431M308 429.5H312" stroke="#777" stroke-width="0.9"/></svg>
</body></html>
